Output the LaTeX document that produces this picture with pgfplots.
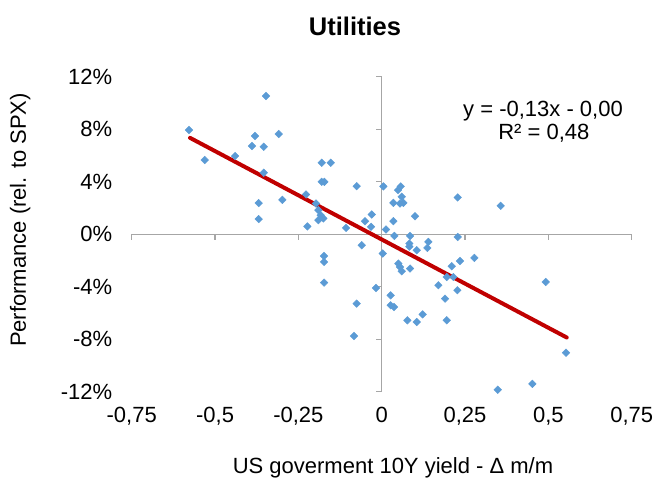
\documentclass[border=0pt]{standalone}
\usepackage{pgfplots}
\pgfplotsset{compat=1.18}
\usepackage{fontspec}
\setmainfont{Liberation Sans}

\definecolor{ptblue}{HTML}{5B9BD5}
\definecolor{fitred}{HTML}{C00000}
\definecolor{axgray}{HTML}{A6A6A6}

% monthly change of the 10Y yield vs. relative performance (%)
\pgfplotstableread{
x y
-0.578 7.94
-0.531 5.65
-0.347 10.53
-0.380 7.48
-0.309 7.63
-0.389 6.72
-0.354 6.66
-0.440 5.95
-0.354 4.68
-0.369 2.37
-0.298 2.62
-0.369 1.15
-0.227 3.03
-0.223 0.59
-0.180 5.44
-0.153 5.44
-0.180 3.99
-0.172 3.99
-0.075 3.66
-0.197 2.34
-0.190 1.83
-0.183 1.45
-0.175 1.20
-0.190 1.07
-0.107 0.48
-0.050 0.99
-0.030 1.50
-0.032 0.56
0.013 0.36
0.005 3.64
0.057 3.64
0.049 3.36
0.060 2.85
0.035 2.39
0.055 2.34
0.065 2.39
0.228 2.80
0.357 2.16
0.100 1.37
0.035 0.99
0.038 -0.13
0.085 -0.13
0.228 -0.21
0.083 -0.71
0.083 -0.95
0.140 -0.59
0.137 -1.05
0.105 -1.22
0.003 -1.47
0.050 -2.24
0.055 -2.50
0.060 -2.82
0.085 -2.62
0.235 -2.04
0.210 -2.44
0.278 -1.81
0.195 -3.26
0.215 -3.26
0.170 -3.89
0.227 -4.27
0.190 -4.91
-0.017 -4.10
0.027 -4.66
0.027 -5.42
0.037 -5.55
0.123 -6.11
0.077 -6.56
0.105 -6.69
0.195 -6.56
0.492 -3.64
0.553 -9.03
0.452 -11.40
0.348 -11.85
-0.060 -0.84
-0.173 -1.66
-0.173 -2.11
-0.173 -3.69
-0.075 -5.29
-0.083 -7.76
}\utildata

\newcommand{\chartfont}{\fontsize{22bp}{26bp}\selectfont}

\begin{document}
\begin{tikzpicture}[x=1bp,y=1bp]
\useasboundingbox (-131.7,-96.3) rectangle (527.3,391.7);
\begin{axis}[
  at={(0,0)}, anchor=south west,
  scale only axis, width=500bp, height=315bp,
  xmin=-0.75, xmax=0.75, ymin=-12, ymax=12,
  axis line style={draw=none},
  major tick length=0pt,
  xtick={-0.75,-0.5,-0.25,0,0.25,0.5,0.75},
  xticklabels={{-0,75},{-0,5},{-0,25},{0},{0,25},{0,5},{0,75}},
  ytick={-12,-8,-4,0,4,8,12},
  yticklabels={-12\%,-8\%,-4\%,0\%,4\%,8\%,12\%},
  tick label style={font=\chartfont},
  xticklabel style={yshift=-12bp},
  yticklabel style={xshift=-16bp},
  clip=false,
]
  % axes crossing at the origin
  \draw[axgray, line width=1.3bp] (axis cs:-0.75,0) -- (axis cs:0.75,0);
  \draw[axgray, line width=1.3bp] (axis cs:0,-12) -- (axis cs:0,12);
  \pgfplotsinvokeforeach{-0.75,-0.5,-0.25,0,0.25,0.5,0.75}{
    \draw[axgray, line width=1.3bp] (axis cs:#1,0) -- ++(0bp,-6bp);
  }
  \pgfplotsinvokeforeach{-12,-8,-4,0,4,8,12}{
    \draw[axgray, line width=1.3bp] (axis cs:0,#1) -- ++(-6bp,0bp);
  }
  \addplot[only marks, mark=square*, mark size=2.7bp,
    mark options={rotate=45, fill=ptblue, draw=ptblue}] table[x=x, y=y] {\utildata};
  % linear trend
  \addplot[fitred, line width=4bp, line cap=round, no marks]
    coordinates {(-0.575,7.34) (0.555,-7.87)};
\end{axis}
\node[font=\bfseries\fontsize{25.5bp}{30bp}\selectfont, anchor=base] at (223.3,356) {Utilities};
\node[font=\chartfont, anchor=base] at (411.3,275) {y = -0,13x - 0,00};
\node[font=\chartfont, anchor=base] at (412.1,252.4) {R² = 0,48};
\node[font=\chartfont, anchor=base] at (261.3,-82.3) {US goverment 10Y yield - Δ m/m};
\node[font=\chartfont, anchor=base, rotate=90] at (-105.7,171.7) {Performance (rel. to SPX)};
\end{tikzpicture}
\end{document}
